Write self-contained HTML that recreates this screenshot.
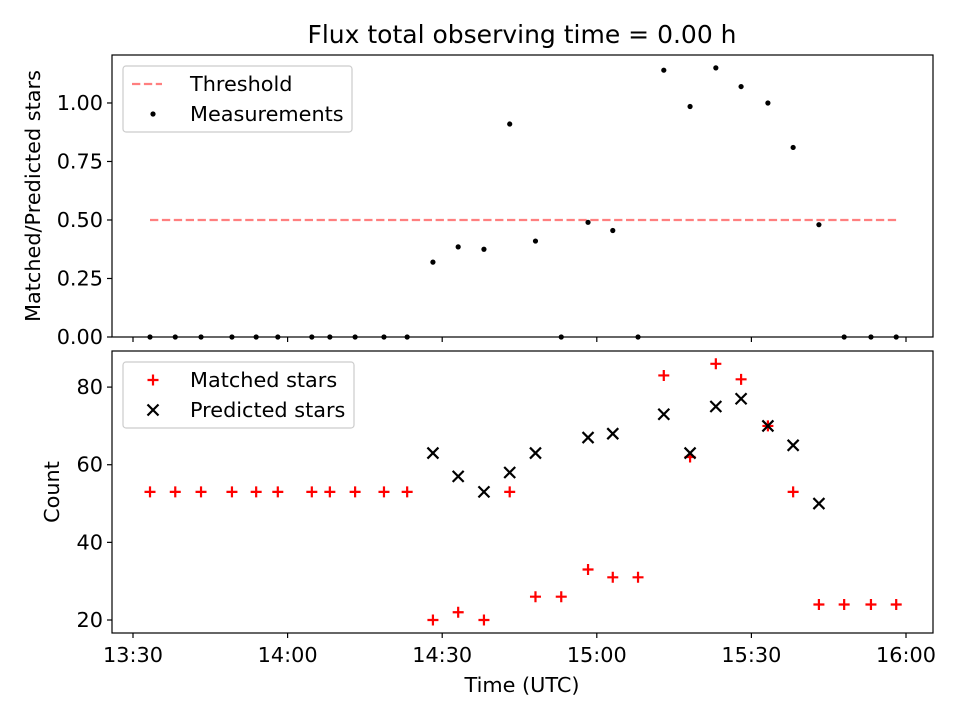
<!DOCTYPE html>
<html><head><meta charset="utf-8"><style>
body{margin:0;background:#fff}
svg{display:block;font-family:"DejaVu Sans","Liberation Sans",sans-serif}
</style></head><body>
<svg id="c" width="960" height="720" viewBox="0 0 960 720">
<rect width="960" height="720" fill="#fff"/>
<text x="522" y="43" style="font-size:25px" text-anchor="middle">Flux total observing time = 0.00 h</text>
<g id="top"></g><g id="bot"></g>
</svg>
<script>
// data: minutes after 13:30 UTC
const times=[3.3,8.2,13.2,19.2,23.9,28.1,34.7,38.2,43.1,48.7,53.2,58.2,63.1,68.1,73.1,78.1,83.1,88.3,93.1,98.0,103.0,108.1,113.1,118.0,123.2,128.1,133.1,138.0,143.2,148.1];
const ratios=[0,0,0,0,0,0,0,0,0,0,0,0.32,0.385,0.375,0.91,0.41,0,0.49,0.455,0,1.14,0.985,1.15,1.07,1.0,0.81,0.48,0,0,0];
const matched=[53,53,53,53,53,53,53,53,53,53,53,20,22,20,53,26,26,33,31,31,83,62,86,82,70,53,24,24,24,24];
const predicted=[null,null,null,null,null,null,null,null,null,null,null,63,57,53,58,63,null,67,68,null,73,63,75,77,70,65,50,null,null,null];
const threshold=0.5;
const xTickLabels=["13:30","14:00","14:30","15:00","15:30","16:00"];
const xTickMinutes=[0,30,60,90,120,150];
const topTicks=[0,0.25,0.5,0.75,1.0];
const botTicks=[20,40,60,80];

const NS="http://www.w3.org/2000/svg";
const svg=document.getElementById('c');
function mk(t,a,p){const e=document.createElementNS(NS,t);for(const k in a)e.setAttribute(k,a[k]);(p||svg).appendChild(e);return e;}
const FS='font-size:20.8px';
const X0=112,X1=933;
const xs=m=>133+m*(773/150);
const T={y0:55,y1:337,min:0,max:1.205};
const B={y0:351,y1:633,min:16.65,max:89.3};
const ys=(ax,v)=>ax.y1-(v-ax.min)/(ax.max-ax.min)*(ax.y1-ax.y0);
const gT=document.getElementById('top'),gB=document.getElementById('bot');

function frame(ax,g,name,ticks,fmt,label,showX,titleX){
  const r=mk('rect',{x:X0,y:ax.y0,width:X1-X0,height:ax.y1-ax.y0,fill:'none',stroke:'#000','stroke-width':1.2},g);
  
  
  ticks.forEach(v=>{const y=ys(ax,v);
    mk('line',{x1:X0-5,x2:X0,y1:y,y2:y,stroke:'#000','stroke-width':1.2},g);
    const t=mk('text',{x:X0-9,y:y+7,style:FS,'text-anchor':'end'},g);t.textContent=fmt(v);
    
    
  });
  xTickMinutes.forEach((m,i)=>{const x=xs(m);
    mk('line',{x1:x,x2:x,y1:ax.y1,y2:ax.y1+5,stroke:'#000','stroke-width':1.2},g);
    if(showX){const t=mk('text',{x:x,y:ax.y1+29,style:FS,'text-anchor':'middle'},g);t.textContent=xTickLabels[i];
      
      }
  });
  const cy=(ax.y0+ax.y1)/2;
  const t=mk('text',{x:0,y:0,style:FS,'text-anchor':'middle',transform:`translate(${titleX},${cy}) rotate(-90)`},g);
  t.textContent=label;
  
  
}
frame(T,gT,'top',topTicks,v=>v.toFixed(2),'Matched/Predicted stars',false,40);
frame(B,gB,'bottom',botTicks,v=>String(v),'Count',true,59);
const xl=mk('text',{x:522,y:692,style:FS,'text-anchor':'middle'});xl.textContent='Time (UTC)';



// threshold
const th=mk('line',{x1:xs(times[0]),x2:xs(times[times.length-1]),y1:ys(T,threshold),y2:ys(T,threshold),stroke:'#ff0000','stroke-opacity':0.5,'stroke-width':2.2,'stroke-dasharray':'8.3,3.6'},gT);


ratios.forEach((v,i)=>{const c=mk('circle',{cx:xs(times[i]),cy:ys(T,v),r:2.6,fill:'#000'},gT);
  
  });
function plus(x,y,g){return mk('path',{d:`M${x-5.5},${y}H${x+5.5}M${x},${y-5.5}V${y+5.5}`,stroke:'#f00','stroke-width':2.2},g);}
function cross(x,y,g){return mk('path',{d:`M${x-5.5},${y-5.5}L${x+5.5},${y+5.5}M${x-5.5},${y+5.5}L${x+5.5},${y-5.5}`,stroke:'#000','stroke-width':2.2},g);}
matched.forEach((v,i)=>{const p=plus(xs(times[i]),ys(B,v),gB);
  
  });
predicted.forEach((v,i)=>{if(v===null)return;const p=cross(xs(times[i]),ys(B,v),gB);
  
  });

// legends
function legend(x,y,w,h,name,items,g){
  const lg=mk('g',{},g);
  mk('rect',{x:x,y:y,width:w,height:h,rx:3,fill:'#fff','fill-opacity':0.8,stroke:'#ccc','stroke-width':1.2},lg);
  items.forEach((it,i)=>{const cy=y+18+i*30;it.draw(x+30,cy,lg);
    const t=mk('text',{x:x+67,y:cy+7,style:FS},lg);t.textContent=it.label;
    });
}
legend(123,66,229,66,'top-legend',[
 {label:'Threshold',draw:(x,y,g)=>mk('line',{x1:x-21,x2:x+9,y1:y,y2:y,stroke:'#f00','stroke-opacity':0.5,'stroke-width':2.2,'stroke-dasharray':'8.3,3.6'},g)},
 {label:'Measurements',draw:(x,y,g)=>mk('circle',{cx:x,cy:y,r:2.6,fill:'#000'},g)}],gT);
legend(123,362,231,66,'bottom-legend',[
 {label:'Matched stars',draw:(x,y,g)=>plus(x,y,g)},
 {label:'Predicted stars',draw:(x,y,g)=>cross(x,y,g)}],gB);
</script>
</body></html>
